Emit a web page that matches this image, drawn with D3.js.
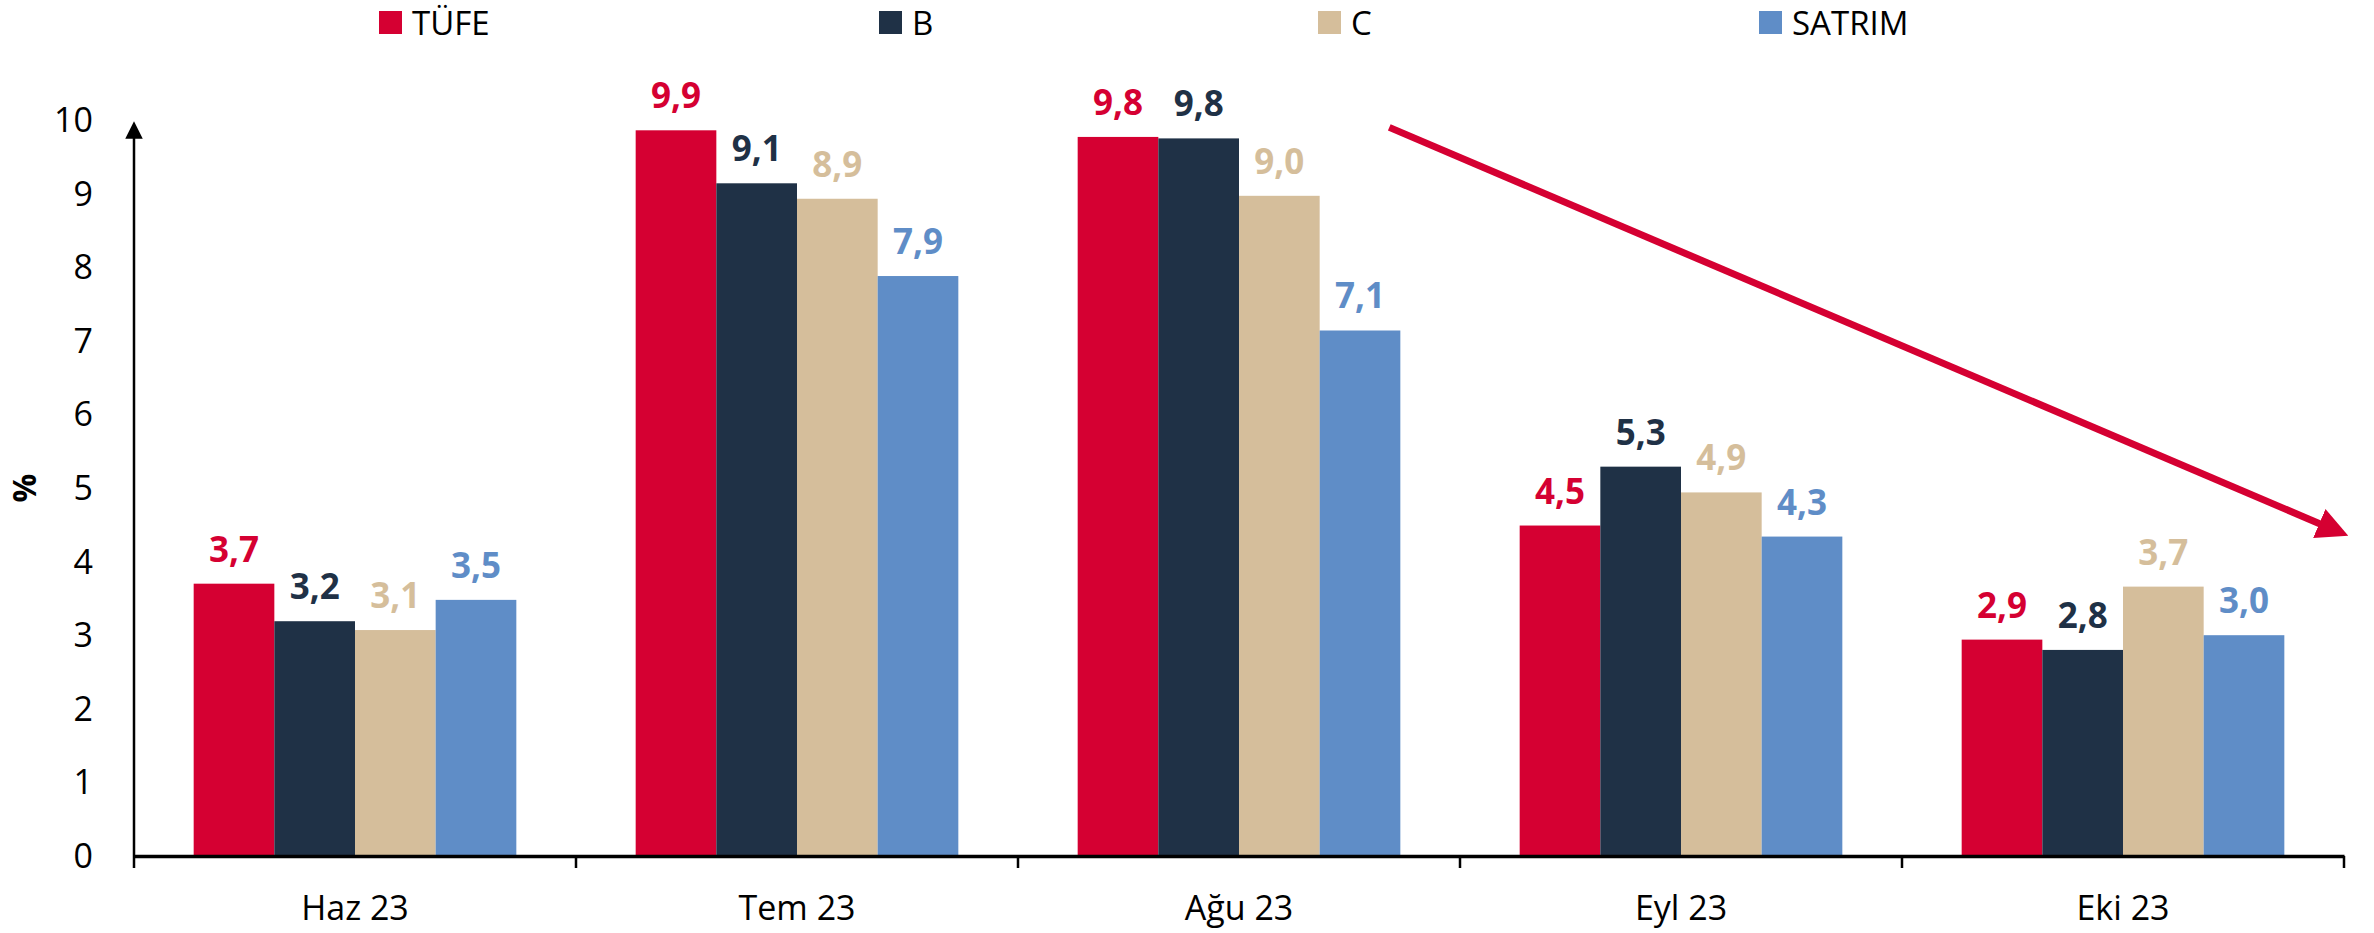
<!DOCTYPE html>
<html>
<head>
<meta charset="utf-8">
<script src="https://cdn.jsdelivr.net/npm/d3@7"></script>
<style>
  body { margin: 0; background: #fff; }
  text { font-family: "Open Sans", sans-serif; }
</style>
</head>
<body>
<div id="chart"></div>
<script>
// Data
var months = ["Haz 23", "Tem 23", "Ağu 23", "Eyl 23", "Eki 23"];
var seriesNames = ["TÜFE", "B", "C", "SATRIM"];
var tufe   = [3.70, 9.86, 9.77, 4.49, 2.94];
var bIdx   = [3.19, 9.14, 9.75, 5.29, 2.80];
var cIdx   = [3.07, 8.93, 8.97, 4.94, 3.66];
var satrim = [3.48, 7.88, 7.14, 4.34, 3.00];
var yTicks = [0, 1, 2, 3, 4, 5, 6, 7, 8, 9, 10];
var colors = ["#D50032", "#1F3146", "#D5BE9B", "#5F8DC7"];

var width = 2374, height = 933;
var margin = {left: 134, right: 30, top: 120, bottom: 77};
var y0 = height - margin.bottom;

var seriesValues = [tufe, bIdx, cIdx, satrim];

var svg = d3.select("#chart").append("svg")
    .attr("width", width)
    .attr("height", height);

var defs = svg.append("defs");
defs.append("marker")
    .attr("id", "axisArrow")
    .attr("viewBox", "0 0 10 10")
    .attr("refX", 5).attr("refY", 5)
    .attr("markerWidth", 7).attr("markerHeight", 7)
    .attr("markerUnits", "strokeWidth")
    .attr("orient", "auto")
  .append("path").attr("d", "M0,0 L10,5 L0,10 z").attr("fill", "#000");
defs.append("marker")
    .attr("id", "trendArrow")
    .attr("viewBox", "0 0 10 10")
    .attr("refX", 7).attr("refY", 5)
    .attr("markerWidth", 4.5).attr("markerHeight", 4.5)
    .attr("markerUnits", "strokeWidth")
    .attr("orient", "auto")
  .append("path").attr("d", "M0,0 L10,5 L0,10 z").attr("fill", "#D50032");

// Scales
var x0 = d3.scaleBand()
    .domain(months)
    .range([margin.left, width - margin.right])
    .paddingInner(0.27)
    .paddingOuter(0.135);
var x1 = d3.scaleBand()
    .domain(seriesNames)
    .range([0, x0.bandwidth()]);
var y = d3.scaleLinear()
    .domain([0, 10])
    .range([y0, margin.top]);

var step = x0.step();
var fmt = function(v) { return d3.format(".1f")(v).replace(".", ","); };

// Bars + value labels
seriesNames.forEach(function(name, si) {
    var g = svg.append("g");
    g.selectAll("rect")
        .data(seriesValues[si])
        .enter().append("rect")
        .attr("x", function(d, i) { return x0(months[i]) + x1(name); })
        .attr("y", function(d) { return y(d); })
        .attr("width", x1.bandwidth())
        .attr("height", function(d) { return y0 - y(d); })
        .attr("fill", colors[si]);
    g.selectAll("text")
        .data(seriesValues[si])
        .enter().append("text")
        .attr("x", function(d, i) { return x0(months[i]) + x1(name) + x1.bandwidth() / 2; })
        .attr("y", function(d) { return y(d) - 22; })
        .attr("text-anchor", "middle")
        .attr("font-size", 35)
        .attr("font-weight", "bold")
        .attr("fill", colors[si])
        .text(fmt);
});

// Y axis: labels only, with arrow line
svg.append("g").selectAll("text")
    .data(yTicks)
    .enter().append("text")
    .attr("x", 93)
    .attr("y", function(d) { return y(d); })
    .attr("dy", "0.35em")
    .attr("text-anchor", "end")
    .attr("font-size", 34)
    .attr("fill", "#000")
    .text(function(d) { return d; });
svg.append("line")
    .attr("x1", margin.left).attr("x2", margin.left)
    .attr("y1", y0).attr("y2", y(10) + 10)
    .attr("stroke", "#000").attr("stroke-width", 2.5)
    .attr("marker-end", "url(#axisArrow)");

svg.append("text")
    .attr("transform", "translate(36," + y(5) + ") rotate(-90)")
    .attr("text-anchor", "middle")
    .attr("font-size", 32)
    .attr("font-weight", "bold")
    .text("%");

// X axis
var xAxis = d3.axisBottom(x0).tickSize(0).tickPadding(40);
var xg = svg.append("g")
    .attr("transform", "translate(0," + y0 + ")")
    .call(xAxis);
xg.select(".domain").attr("stroke", "#000").attr("stroke-width", 3.5);
xg.selectAll(".tick text")
    .attr("font-size", 34)
    .attr("font-family", "Open Sans")
    .attr("fill", "#000");
var boundaries = months.map(function(m) { return x0(m) - x0.step() * x0.paddingInner() / 2; });
boundaries.push(width - margin.right);
xg.selectAll(".sep")
    .data(boundaries)
    .enter().append("line")
    .attr("x1", function(d) { return d; }).attr("x2", function(d) { return d; })
    .attr("y1", 0).attr("y2", 12)
    .attr("stroke", "#000").attr("stroke-width", 2.5);

// Trend arrow
var trendFrom = {month: "Ağu 23", frac: 0.84, value: 9.9};
var trendTo = {month: "Eki 23", frac: 0.99, value: 4.4};
function trendX(p) { return x0(p.month) - step * 0.135 + step * p.frac; }
svg.append("line")
    .attr("x1", trendX(trendFrom)).attr("y1", y(trendFrom.value))
    .attr("x2", trendX(trendTo)).attr("y2", y(trendTo.value))
    .attr("stroke", "#D50032").attr("stroke-width", 7)
    .attr("marker-end", "url(#trendArrow)");

// Legend
var legendX = [379, 879, 1318, 1759];
var lg = svg.append("g");
seriesNames.forEach(function(name, i) {
    lg.append("rect")
        .attr("x", legendX[i]).attr("y", 11)
        .attr("width", 23).attr("height", 23)
        .attr("fill", colors[i]);
    lg.append("text")
        .attr("x", legendX[i] + 33).attr("y", 35)
        .attr("font-size", 33)
        .attr("fill", "#000")
        .text(name);
});
</script>
</body>
</html>
